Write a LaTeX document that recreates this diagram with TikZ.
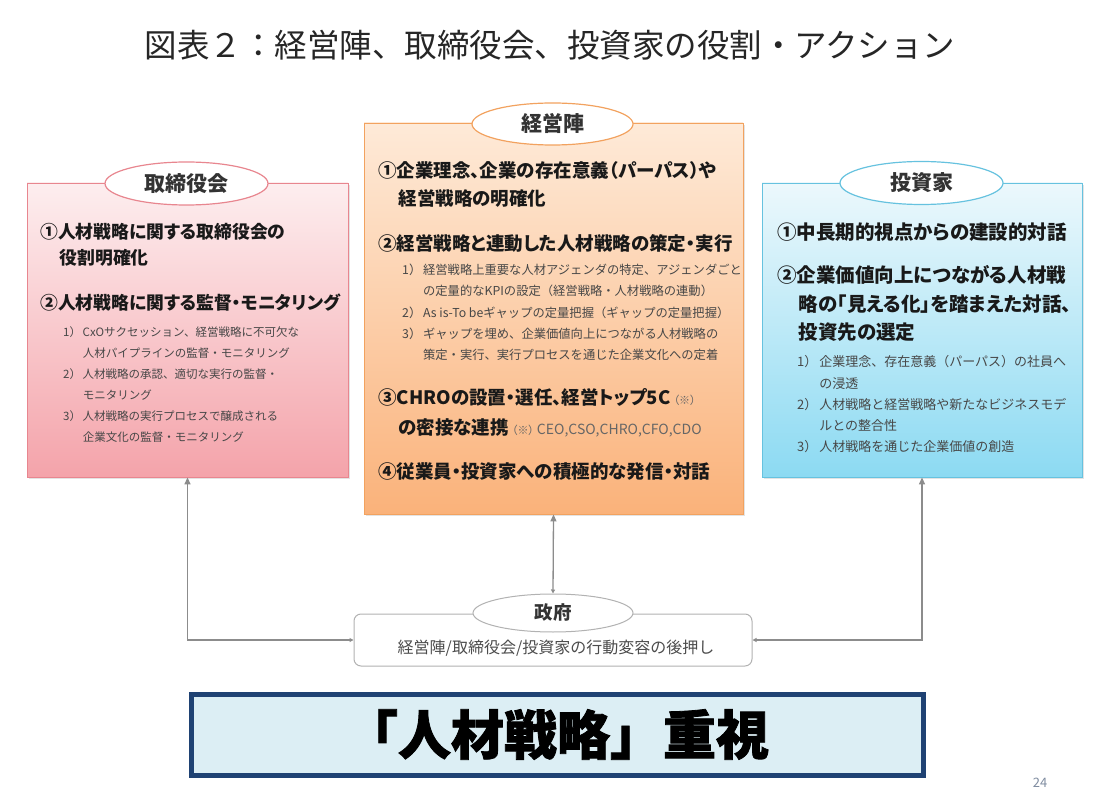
\documentclass[tikz,border=0pt]{standalone}
\usepackage{fontspec}
\setmainfont{Noto Sans CJK JP}
\newfontfamily\jpprop{Noto Sans CJK JP}[RawFeature=+palt]
\usepackage{tikz}
\usetikzlibrary{arrows.meta,shapes.geometric,shadows}
\definecolor{pinkTop}{HTML}{FDEEEF}
\definecolor{pinkBot}{HTML}{F4A3AA}
\definecolor{pinkLine}{HTML}{E8868F}
\definecolor{oranTop}{HTML}{FEEAD8}
\definecolor{oranBot}{HTML}{FAB27A}
\definecolor{oranLine}{HTML}{F2A25F}
\definecolor{blueTop}{HTML}{ECF8FC}
\definecolor{blueBot}{HTML}{8CDAF2}
\definecolor{blueLine}{HTML}{66C2DF}
\definecolor{navyLine}{HTML}{1F4273}
\definecolor{paleBlue}{HTML}{DCEEF4}
\definecolor{pageGray}{HTML}{7F8CA0}
\newcommand{\numcol}[1]{\makebox[1.7em][l]{#1}}
\newcommand{\numgap}{\hspace*{1.7em}}
\newcommand{\maingap}{\hspace*{1.1em}}
\newcommand{\astnote}[1]{{\jpprop\fontsize{11}{11}\selectfont\mdseries\color{black!60}#1}}
\newcommand{\cxonote}[1]{{\fontsize{14}{14}\selectfont\mdseries\color{black!60}#1}}
\tikzset{
  px/.style={x=1pt, y=-1pt},
  r panel/.style={draw, line width=0.8pt, drop shadow={shadow xshift=2pt, shadow yshift=-2pt, opacity=0.22}},
  r pink/.style={r panel, draw=pinkLine, top color=pinkTop, bottom color=pinkBot},
  r oran/.style={r panel, draw=oranLine, top color=oranTop, bottom color=oranBot},
  r blue/.style={r panel, draw=blueLine, top color=blueTop, bottom color=blueBot},
  r tag/.style={ellipse, fill=white, line width=1.2pt, inner sep=0pt, font=\fontsize{21}{21}\selectfont\bfseries, text=black!80},
  r main/.style={anchor=west, align=left, inner sep=0pt, text=black!90},
  r sub/.style={anchor=west, align=left, inner sep=0pt, text=black!72},
  r link/.style={draw=black!45, line width=1.3pt, {Triangle[length=4pt,width=4pt]}-{Triangle[length=7pt,width=6pt]}},
}

\begin{document}
\begin{tikzpicture}[px]
\useasboundingbox (0,0) rectangle (1111,799);
\node[font=\fontsize{32.5}{32.5}\selectfont, text=black!85] (title) at (550,45) {図表２：経営陣、取締役会、投資家の役割・アクション};

% three actors
\node[r pink, minimum width=321pt, minimum height=294pt] (tori) at (187.5,330) {};
\node[r oran, minimum width=379pt, minimum height=391pt] (keiei) at (553.5,318.5) {};
\node[r blue, minimum width=320pt, minimum height=294pt] (toshi) at (922,330) {};
\node[r tag, draw=pinkLine, minimum width=163pt, minimum height=43pt] (toriTag) at (186.5,183.5) {取締役会};
\node[r tag, draw=oranLine, minimum width=161pt, minimum height=42pt] (keieiTag) at (552.5,124) {経営陣};
\node[r tag, draw=blueLine, minimum width=163pt, minimum height=43pt] (toshiTag) at (921.5,183) {投資家};

% board
\node[r main, font=\jpprop\fontsize{17.8}{26}\selectfont\bfseries] (tori1) at (40,245) {①人材戦略に関する取締役会の\\\maingap 役割明確化};
\node[r main, font=\jpprop\fontsize{17.8}{26}\selectfont\bfseries] (tori2) at (40,303) {②人材戦略に関する監督・モニタリング};
\node[r sub, font=\fontsize{11.5}{21}\selectfont] (toriSub) at (63,384.5) {\numcol{1）}CxOサクセッション、経営戦略に不可欠な\\
\numgap 人材パイプラインの監督・モニタリング\\
\numcol{2）}人材戦略の承認、適切な実行の監督・\\
\numgap モニタリング\\
\numcol{3）}人材戦略の実行プロセスで醸成される\\
\numgap 企業文化の監督・モニタリング};

% management
\node[r main, font=\jpprop\fontsize{18.5}{28}\selectfont\bfseries] (keiei1) at (378,184) {①企業理念、企業の存在意義（パーパス）や\\\maingap 経営戦略の明確化};
\node[r main, font=\jpprop\fontsize{18.5}{28}\selectfont\bfseries] (keiei2) at (378,243) {②経営戦略と連動した人材戦略の策定・実行};
\node[r sub, font=\fontsize{12.3}{21.25}\selectfont] (keieiSub) at (402,312.5) {\numcol{1）}経営戦略上重要な人材アジェンダの特定、アジェンダごと\\
\numgap の定量的なKPIの設定（経営戦略・人材戦略の連動）\\
\numcol{2）}As is-To beギャップの定量把握（ギャップの定量把握）\\
\numcol{3）}ギャップを埋め、企業価値向上につながる人材戦略の\\
\numgap 策定・実行、実行プロセスを通じた企業文化への定着};
\node[r main, font=\jpprop\fontsize{18.5}{30}\selectfont\bfseries] (keiei3) at (378,413) {③CHROの設置・選任、経営トップ5C\,\astnote{（※）}\\
\maingap の密接な連携\,\astnote{（※）}\hspace{3pt}\cxonote{CEO,CSO,CHRO,CFO,CDO}};
\node[r main, font=\jpprop\fontsize{18.5}{28}\selectfont\bfseries] (keiei4) at (378,472) {④従業員・投資家への積極的な発信・対話};

% investors
\node[r main, font=\jpprop\fontsize{19.5}{28.5}\selectfont\bfseries] (toshi1) at (777,232) {①中長期的視点からの建設的対話};
\node[r main, font=\jpprop\fontsize{19.5}{28.5}\selectfont\bfseries] (toshi2) at (777,303.5) {②企業価値向上につながる人材戦\\\maingap 略の「見える化」を踏まえた対話、\\\maingap 投資先の選定};
\node[r sub, font=\fontsize{13}{21.25}\selectfont] (toshiSub) at (797,404.5) {\numcol{1）}企業理念、存在意義（パーパス）の社員へ\\
\numgap の浸透\\
\numcol{2）}人材戦略と経営戦略や新たなビジネスモデ\\
\numgap ルとの整合性\\
\numcol{3）}人材戦略を通じた企業価値の創造};

% government
\node[draw=black!30, line width=1pt, rounded corners=7pt, fill=white, minimum width=398pt, minimum height=52pt] (seifu) at (553,640) {};
\node[r tag, draw=black!30, line width=1pt, minimum width=160pt, minimum height=38pt, font=\fontsize{18.5}{18.5}\selectfont\bfseries] (seifuTag) at (553,613) {政府};
\node[font=\fontsize{16}{16}\selectfont, text=black!70] (seifuTxt) at (556,648) {経営陣/取締役会/投資家の行動変容の後押し};
\draw[r link] (seifu.west) -| (tori.south);
\draw[r link] (seifu.east) -| (toshi.south);
\draw[r link] (seifuTag.north) -- (keiei.south);

% message
\node[draw=navyLine, line width=5pt, fill=paleBlue, minimum width=732pt, minimum height=81pt, font=\fontsize{53}{53}\selectfont\bfseries\addfontfeature{FakeBold=1.5}] (msg) at (557,734.5) {「人材戦略」重視};
\node[font=\fontsize{13}{13}\selectfont, text=pageGray] (page) at (1040,783) {24};
\end{tikzpicture}
\end{document}
